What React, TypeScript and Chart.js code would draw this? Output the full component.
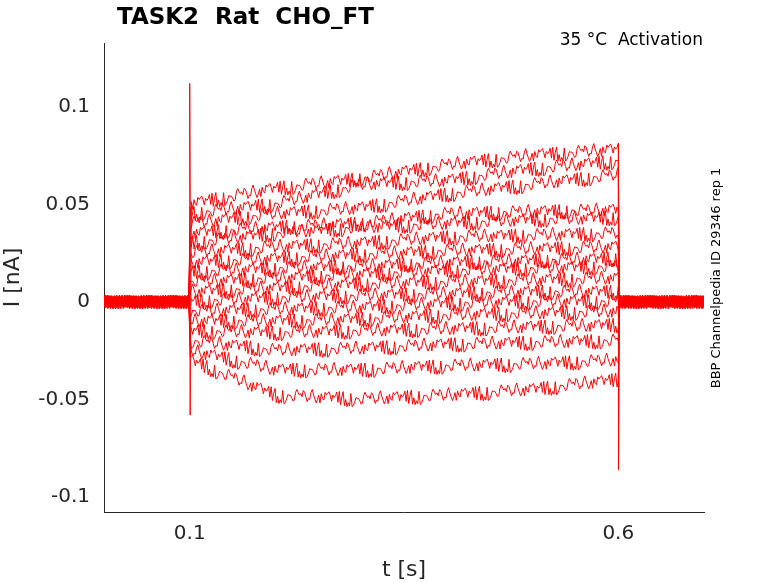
import React, { useEffect, useRef } from "react";
import { Chart, registerables } from "chart.js";
Chart.register(...registerables);

const titleText = "TASK2  Rat  CHO_FT";
const tempText = "35 °C  Activation";
const sideText = "BBP Channelpedia ID 29346 rep 1";
const xTicks = [0.1, 0.6];
const yTicks = [-0.1, -0.05, 0, 0.05, 0.1];
const yTickLabels = ["-0.1", "-0.05", "0", "0.05", "0.1"];
// control times during the step, and trace levels (nA) at each
const stepTimes = [0.1, 0.2, 0.3, 0.4, 0.5, 0.6];
const traceLevels = [
  [0.05, 0.058, 0.063, 0.07, 0.075, 0.078],
  [0.045, 0.05, 0.06, 0.062, 0.068, 0.072],
  [0.04, 0.045, 0.048, 0.055, 0.06, 0.065],
  [0.035, 0.038, 0.04, 0.045, 0.046, 0.047],
  [0.03, 0.035, 0.038, 0.04, 0.042, 0.043],
  [0.025, 0.028, 0.03, 0.033, 0.034, 0.035],
  [0.02, 0.022, 0.024, 0.026, 0.027, 0.028],
  [0.015, 0.017, 0.018, 0.02, 0.021, 0.022],
  [0.01, 0.012, 0.014, 0.016, 0.017, 0.018],
  [0.005, 0.007, 0.009, 0.01, 0.011, 0.012],
  [0.0, 0.002, 0.003, 0.004, 0.005, 0.005],
  [-0.005, -0.004, -0.003, -0.001, 0.0, 0.0],
  [-0.01, -0.01, -0.009, -0.007, -0.006, -0.005],
  [-0.015, -0.016, -0.015, -0.014, -0.013, -0.012],
  [-0.02, -0.025, -0.024, -0.022, -0.021, -0.02],
  [-0.025, -0.035, -0.035, -0.033, -0.032, -0.03],
  [-0.03, -0.048, -0.05, -0.048, -0.045, -0.04],
];
// hand-read noise shape (relative units)
const noise = [0.2, -0.5, 0.8, -0.3, 0.1, 0.9, -0.7, 0.4, -0.9, 0.3, 0.6, -0.2, -0.8, 0.5, 0.0, 0.7,
  -0.4, 1.0, -0.6, 0.2, -0.1, 0.8, -1.0, 0.4, 0.3, -0.5, 0.9, -0.3, 0.6, -0.8, 0.1, -0.2,
  0.5, -0.9, 0.7, 0.0, -0.4, 0.3, -0.7, 0.9, -0.1, 0.4, -0.6, 0.2, 0.8, -0.3, 0.5, -1.0, 0.6, -0.2, 0.1, -0.5, 0.3];
const baseNoise = 0.0035;
const stepNoise = 0.004;
const dt = 0.0015;

function levelAt(lv: number[], t: number) {
  for (let i = 0; i < stepTimes.length - 1; i++) {
    if (t <= stepTimes[i + 1]) {
      const f = (t - stepTimes[i]) / (stepTimes[i + 1] - stepTimes[i]);
      return lv[i] + f * (lv[i + 1] - lv[i]);
    }
  }
  return lv[lv.length - 1];
}

function buildTrace(k: number) {
  const pts: { x: number; y: number }[] = [];
  const n = Math.round(0.7 / dt);
  for (let i = 0; i <= n; i++) {
    const t = i * dt;
    const nz = noise[(i * 7 + k * 13) % noise.length];
    if (t < 0.1 || t > 0.6) {
      pts.push({ x: t, y: nz * baseNoise });
    } else {
      pts.push({ x: t, y: levelAt(traceLevels[k], t) + nz * stepNoise });
    }
    if (Math.abs(t - 0.1) < dt / 2 && k === 0) { pts.push({ x: 0.1, y: 0.112 }); pts.push({ x: 0.1005, y: -0.058 }); }
    if (Math.abs(t - 0.6) < dt / 2 && k === 0) { pts.push({ x: 0.6, y: 0.08 }); pts.push({ x: 0.6005, y: -0.086 }); }
  }
  return pts;
}

const textPlugin = {
  id: "texts",
  afterDraw(chart: any) {
    const c = chart.ctx;
    const a = chart.chartArea;
    c.save();
    c.fillStyle = "#000";
    c.font = "bold 23px 'DejaVu Sans'";
    c.textBaseline = "middle";
    c.textAlign = "left";
    c.fillText(titleText, 117, 18);
    c.font = "17px 'DejaVu Sans'";
    c.textAlign = "right";
    c.fillText(tempText, a.right - 1, 41);
    c.font = "13px 'DejaVu Sans'";
    c.translate(717, 278);
    c.rotate(-Math.PI / 2);
    c.textAlign = "center";
    c.fillText(sideText, 0, 0);
    c.restore();
  },
};

export default function App() {
  const ref = useRef<HTMLCanvasElement>(null);
  useEffect(() => {
    const datasets = traceLevels.map((_, k) => ({
      data: buildTrace(k),
      borderColor: "#ff0000",
      borderWidth: 1,
      pointRadius: 0,
      fill: false,
    }));
    const chart = new Chart(ref.current!, {
      type: "line",
      data: { datasets },
      plugins: [textPlugin],
      options: {
        animation: false,
        responsive: false,
        layout: { padding: { top: 43, right: 74, left: 0, bottom: 0 } },
        plugins: { legend: { display: false }, tooltip: { enabled: false } },
        scales: {
          x: {
            type: "linear", min: 0, max: 0.7,
            afterBuildTicks: (s: any) => { s.ticks = xTicks.map((v) => ({ value: v })); },
            afterFit: (s: any) => { s.height = 71; },
            grid: { display: false, drawTicks: true, tickLength: 8, tickColor: "#262626" },
            border: { color: "#262626" },
            ticks: { color: "#262626", font: { size: 20, family: "DejaVu Sans" }, maxRotation: 0, padding: 2, callback: (v: any) => String(v) },
            title: { display: true, text: "t [s]", color: "#262626", font: { size: 22, family: "DejaVu Sans" }, padding: 0 },
          },
          y: {
            type: "linear", min: -0.1077, max: 0.1327,
            afterBuildTicks: (s: any) => { s.ticks = yTicks.map((v) => ({ value: v })); },
            afterFit: (s: any) => { s.width = 104; },
            grid: { display: false, drawTicks: true, tickLength: 8, tickColor: "#262626" },
            border: { color: "#262626" },
            ticks: { color: "#262626", font: { size: 20, family: "DejaVu Sans" }, padding: 6, callback: (v: any) => yTickLabels[yTicks.findIndex((t) => Math.abs(t - v) < 1e-9)] ?? "" },
            title: { display: true, text: "I [nA]", color: "#262626", font: { size: 22, family: "DejaVu Sans" }, padding: 0 },
          },
        },
      } as any,
    });
    return () => chart.destroy();
  }, []);
  return (
    <div style={{ position: "fixed", left: 0, top: 0, width: 778, height: 583, background: "#fff" }}>
      <canvas ref={ref} width={778} height={583} />
    </div>
  );
}
